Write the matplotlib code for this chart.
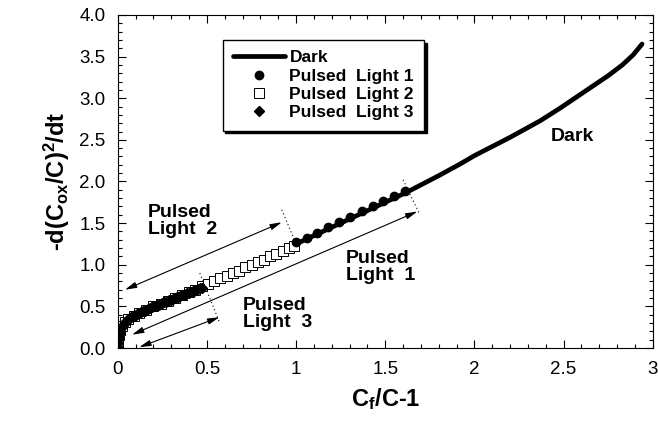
import matplotlib
matplotlib.use("Agg")
import matplotlib.pyplot as plt
from matplotlib.ticker import MultipleLocator, FormatStrFormatter, FuncFormatter

plt.rcParams['font.family'] = ['Liberation Sans', 'DejaVu Sans']
plt.rcParams['mathtext.fontset'] = 'custom'
plt.rcParams['mathtext.rm'] = 'Liberation Sans:bold'
plt.rcParams['mathtext.it'] = 'Liberation Sans:bold'
plt.rcParams['mathtext.bf'] = 'Liberation Sans:bold'

# Dark curve
dark_x = [1.00, 1.20, 1.40, 1.62, 1.80, 1.92, 2.00, 2.10, 2.20, 2.37, 2.48,
          2.57, 2.66, 2.75, 2.83, 2.89, 2.94]
dark_y = [1.25, 1.45, 1.65, 1.87, 2.07, 2.21, 2.31, 2.42, 2.53, 2.73, 2.88,
          3.01, 3.14, 3.27, 3.40, 3.52, 3.65]

# Pulsed Light 1 (filled circles)
p1_x = [1.00, 1.06, 1.12, 1.18, 1.24, 1.30, 1.37, 1.43, 1.49, 1.55, 1.61]
p1_y = [1.27, 1.32, 1.38, 1.45, 1.51, 1.57, 1.64, 1.70, 1.76, 1.82, 1.89]

# Pulsed Light 2 (open squares)
p2_x = [0.000, 0.003, 0.008, 0.015, 0.025, 0.04, 0.06, 0.09, 0.12, 0.16, 0.20,
        0.24, 0.28, 0.32, 0.36, 0.40, 0.435, 0.47, 0.505, 0.54, 0.575, 0.61,
        0.645, 0.68, 0.715, 0.75, 0.785, 0.82, 0.855, 0.89, 0.925, 0.96, 0.99]
p2_y = [0.00, 0.08, 0.16, 0.22, 0.27, 0.31, 0.35, 0.39, 0.42, 0.46, 0.50,
        0.53, 0.57, 0.60, 0.64, 0.67, 0.70, 0.74, 0.77, 0.81, 0.84, 0.87,
        0.90, 0.93, 0.97, 1.00, 1.03, 1.06, 1.10, 1.13, 1.17, 1.20, 1.23]

# Pulsed Light 3 (filled diamonds)
p3_x = [0.000, 0.003, 0.006, 0.010, 0.015, 0.020, 0.030, 0.040, 0.050, 0.060,
        0.070, 0.080, 0.090, 0.100, 0.110, 0.120, 0.130, 0.140, 0.150, 0.160,
        0.170, 0.180, 0.190, 0.200, 0.210, 0.220, 0.230, 0.240, 0.250, 0.260,
        0.270, 0.280, 0.290, 0.300, 0.310, 0.320, 0.330, 0.340, 0.350, 0.360,
        0.370, 0.380, 0.390, 0.400, 0.410, 0.420, 0.430, 0.440, 0.450, 0.460,
        0.470]
p3_y = [0.000, 0.060, 0.120, 0.170, 0.210, 0.240, 0.280, 0.310, 0.330, 0.350,
        0.365, 0.380, 0.390, 0.400, 0.410, 0.420, 0.430, 0.440, 0.450, 0.460,
        0.470, 0.480, 0.490, 0.500, 0.505, 0.515, 0.520, 0.530, 0.540, 0.550,
        0.555, 0.565, 0.575, 0.580, 0.590, 0.600, 0.610, 0.615, 0.625, 0.635,
        0.640, 0.650, 0.660, 0.665, 0.675, 0.685, 0.690, 0.700, 0.710, 0.720,
        0.725]

fig = plt.figure(figsize=(6.58, 4.26), dpi=100)
ax = fig.add_axes([0.179, 0.183, 0.813, 0.782])

ax.plot(dark_x, dark_y, color='black', lw=3.4, solid_capstyle='round',
        solid_joinstyle='round', label='Dark', zorder=3)
ax.plot(p1_x, p1_y, 'o', color='black', ms=6, label='Pulsed  Light 1', zorder=4)
ax.plot(p2_x, p2_y, 's', mfc='white', mec='black', mew=0.7, ms=6.5,
        label='Pulsed  Light 2', zorder=2)
ax.plot(p3_x, p3_y, 'D', color='black', ms=5.3, label='Pulsed  Light 3', zorder=5)

# Range arrows
arrow_kw = dict(arrowstyle='<|-|>,head_length=0.7,head_width=0.18',
                color='black', lw=0.8, shrinkA=0, shrinkB=0)
ax.annotate('', xy=(0.04, 0.70), xytext=(0.92, 1.51), arrowprops=arrow_kw)
ax.annotate('', xy=(0.08, 0.16), xytext=(1.68, 1.64), arrowprops=arrow_kw)
ax.annotate('', xy=(0.12, 0.01), xytext=(0.57, 0.37), arrowprops=arrow_kw)

# Dotted range limits
dot_kw = dict(color='black', lw=0.8, ls=(0, (1, 2.5)))
ax.plot([0.92, 0.99], [1.66, 1.30], **dot_kw)
ax.plot([0.46, 0.57], [0.90, 0.31], **dot_kw)
ax.plot([1.60, 1.69], [2.02, 1.62], **dot_kw)

txt_kw = dict(fontsize=14, fontweight='bold', va='center', ha='left',
              linespacing=1.0)
ax.text(0.17, 1.52, 'Pulsed\nLight  2', **txt_kw)
ax.text(0.70, 0.41, 'Pulsed\nLight  3', **txt_kw)
ax.text(1.28, 0.97, 'Pulsed\nLight  1', **txt_kw)
ax.text(2.43, 2.54, 'Dark', **txt_kw)

ax.set_xlim(0, 3)
ax.set_ylim(0, 4)
ax.xaxis.set_major_locator(MultipleLocator(0.5))
ax.xaxis.set_minor_locator(MultipleLocator(0.1))
ax.yaxis.set_major_locator(MultipleLocator(0.5))
ax.yaxis.set_minor_locator(MultipleLocator(0.1))
ax.xaxis.set_major_formatter(FuncFormatter(lambda v, p: f'{v:g}'))
ax.yaxis.set_major_formatter(FormatStrFormatter('%.1f'))
ax.tick_params(which='both', direction='in', top=True, right=True,
               labelsize=13.5, width=0.8)
ax.tick_params(which='major', length=6)
ax.tick_params(which='minor', length=3)
ax.tick_params(axis='x', pad=9)
ax.tick_params(axis='y', pad=9)
for s in ax.spines.values():
    s.set_linewidth(0.8)

ax.set_xlabel(r'C$_f$/C-1', fontsize=17, fontweight='bold', labelpad=6)
ax.set_ylabel(r'-d(C$_{ox}$/C)$^2$/dt', fontsize=17, fontweight='bold',
              labelpad=5)

leg = ax.legend(loc='upper left', bbox_to_anchor=(0.196, 0.925),
                borderaxespad=0, frameon=True, fancybox=False,
                shadow={'color': 'black', 'alpha': 1},
                prop={'weight': 'bold', 'size': 12.5}, handlelength=3.0,
                handletextpad=0.25, labelspacing=0.18, borderpad=0.6,
                numpoints=1)
leg.get_frame().set_edgecolor('black')
leg.get_frame().set_linewidth(1.0)

fig.savefig('out.png', dpi=100)
